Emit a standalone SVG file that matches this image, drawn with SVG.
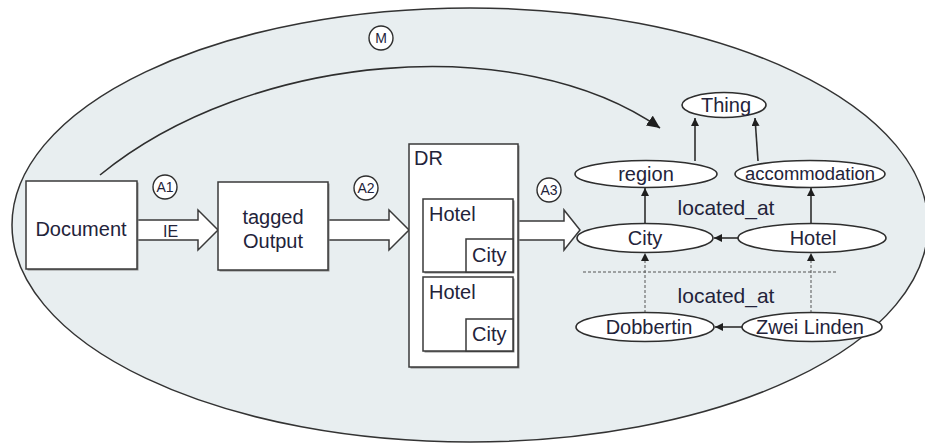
<svg xmlns="http://www.w3.org/2000/svg" width="925" height="443" viewBox="0 0 925 443">
  <style>
    text { font-family: "Liberation Sans", Arial, sans-serif; fill: #23233a; }
    .lbl { font-size: 20px; }
    .mid { text-anchor: middle; }
    .tag { font-size: 14px; text-anchor: middle; }
    .box { fill: #ffffff; stroke: #3a3a3a; stroke-width: 1.5; }
    .shadow { fill: #8a8a8a; }
    .node { fill: #ffffff; stroke: #2e2e2e; stroke-width: 1.6; }
    .ring { fill: #ffffff; stroke: #2e2e2e; stroke-width: 1.4; }
    .block { fill: #ffffff; stroke: #3a3a3a; stroke-width: 1.5; stroke-linejoin: miter; }
    .edge { fill: none; stroke: #2e2e2e; stroke-width: 1.6; }
    .dash { fill: none; stroke: #555; stroke-width: 1; stroke-dasharray: 3 2; }
  </style>
  <defs>
    <marker id="tip" markerUnits="userSpaceOnUse" markerWidth="8" markerHeight="8" viewBox="0 0 8 8" refX="8" refY="4" orient="auto">
      <path d="M0,0 L8,4 L0,8 z" fill="#1e1e1e"/>
    </marker>
    <marker id="bigtip" markerUnits="userSpaceOnUse" markerWidth="13" markerHeight="12" viewBox="0 0 13 12" refX="13" refY="6" orient="auto">
      <path d="M0,0 L13,6 L0,12 z" fill="#1e1e1e"/>
    </marker>
  </defs>

  <!-- white page -->
  <rect x="0" y="0" width="925" height="443" fill="#ffffff"/>

  <!-- model boundary -->
  <ellipse cx="470" cy="225" rx="458" ry="217" fill="#e8eef0" stroke="#333" stroke-width="1.5"/>

  <g id="connectors">
    <!-- mapping arc M -->
    <path class="edge" d="M100,175 C250,52 520,30 660,128" marker-end="url(#bigtip)"/>

    <!-- block arrows -->
    <path class="block" d="M137,220 L198,220 L198,210 L218,230 L198,250 L198,240 L137,240 z"/>
    <path class="block" d="M328,220 L389,220 L389,210 L409,230 L389,250 L389,240 L328,240 z"/>
    <path class="block" d="M518,221 L564,221 L564,210 L580,230 L564,250 L564,240 L518,240 z"/>

    <!-- ontology edges -->
    <line class="edge" x1="695" y1="161" x2="695" y2="118" marker-end="url(#tip)"/>
    <line class="edge" x1="758" y1="161" x2="755" y2="118" marker-end="url(#tip)"/>
    <line class="edge" x1="645" y1="224" x2="645" y2="188" marker-end="url(#tip)"/>
    <line class="edge" x1="811" y1="224" x2="811" y2="188" marker-end="url(#tip)"/>
    <line class="edge" x1="738" y1="238" x2="714" y2="238" marker-end="url(#tip)"/>
    <line class="edge" x1="742" y1="327" x2="715" y2="327" marker-end="url(#tip)"/>

    <!-- instance-of links and separator -->
    <line class="dash" x1="583" y1="272" x2="838" y2="272" stroke="#999"/>
    <line class="dash" x1="645" y1="313" x2="645" y2="253" marker-end="url(#tip)"/>
    <line class="dash" x1="811" y1="313" x2="811" y2="253" marker-end="url(#tip)"/>
  </g>

  <!-- step labels -->
  <g id="label-M"><circle class="ring" cx="381" cy="38" r="12"/><text class="tag" x="381" y="43">M</text></g>
  <g id="label-A1"><circle class="ring" cx="165" cy="187" r="12"/><text class="tag" x="165" y="192">A1</text></g>
  <g id="label-A2"><circle class="ring" cx="366" cy="188" r="12"/><text class="tag" x="366" y="193">A2</text></g>
  <g id="label-A3"><circle class="ring" cx="549" cy="190" r="12"/><text class="tag" x="549" y="195">A3</text></g>

  <text x="163" y="237" style="font-size:16px">IE</text>

  <!-- pipeline boxes -->
  <g id="document">
    <rect class="shadow" x="27.5" y="182.5" width="111" height="88"/>
    <rect class="box" x="26" y="181" width="111" height="88"/>
    <text class="lbl mid" x="81" y="236">Document</text>
  </g>

  <g id="tagged-output">
    <rect class="shadow" x="219.5" y="183.5" width="110" height="88"/>
    <rect class="box" x="218" y="182" width="110" height="88"/>
    <text class="lbl mid" x="273" y="224">tagged</text>
    <text class="lbl mid" x="273" y="248">Output</text>
  </g>

  <g id="dr">
    <rect class="shadow" x="410.5" y="145.5" width="109" height="223"/>
    <rect class="box" x="409" y="144" width="109" height="223"/>
    <text class="lbl" x="414" y="165">DR</text>

    <g id="dr-hotel-1">
      <rect class="shadow" x="424.5" y="200.5" width="90" height="73"/>
      <rect class="box" x="423" y="199" width="90" height="73"/>
      <text class="lbl" x="429" y="221">Hotel</text>
      <rect class="box" x="466" y="239" width="47" height="33"/>
      <text class="lbl" x="472" y="262">City</text>
    </g>

    <g id="dr-hotel-2">
      <rect class="shadow" x="424.5" y="278.5" width="90" height="74"/>
      <rect class="box" x="423" y="277" width="90" height="74"/>
      <text class="lbl" x="429" y="299">Hotel</text>
      <rect class="box" x="466" y="319" width="47" height="32"/>
      <text class="lbl" x="472" y="341">City</text>
    </g>
  </g>

  <!-- ontology nodes -->
  <g id="thing"><ellipse class="node" cx="724" cy="105" rx="42" ry="12.5"/><text class="lbl mid" x="726" y="112">Thing</text></g>
  <g id="region"><ellipse class="node" cx="646" cy="174" rx="71" ry="13.5"/><text class="lbl mid" x="646" y="181">region</text></g>
  <g id="accommodation"><ellipse class="node" cx="810" cy="174" rx="75" ry="13.5"/><text class="mid" x="810" y="180" style="font-size:18px" textLength="130" lengthAdjust="spacingAndGlyphs">accommodation</text></g>
  <g id="city"><ellipse class="node" cx="645" cy="238" rx="68" ry="14.5"/><text class="lbl mid" x="645" y="245">City</text></g>
  <g id="hotel"><ellipse class="node" cx="812" cy="238" rx="74" ry="14.5"/><text class="lbl mid" x="813" y="245">Hotel</text></g>
  <g id="dobbertin"><ellipse class="node" cx="645" cy="327" rx="69" ry="14.5"/><text class="lbl mid" x="649" y="334">Dobbertin</text></g>
  <g id="zwei-linden"><ellipse class="node" cx="812" cy="327" rx="70" ry="14.5"/><text class="lbl mid" x="810" y="334">Zwei Linden</text></g>

  <text class="mid" x="726" y="215" style="font-size:21px">located_at</text>
  <text class="mid" x="726" y="303" style="font-size:21px">located_at</text>
</svg>
